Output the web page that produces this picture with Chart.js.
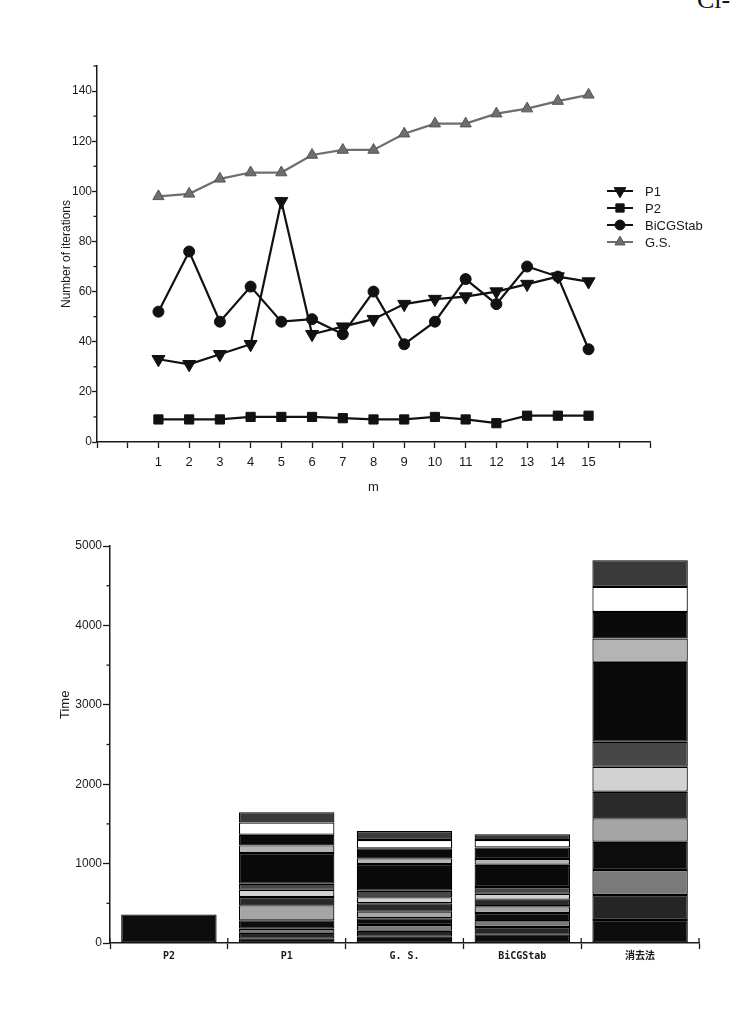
<!DOCTYPE html>
<html>
<head>
<meta charset="utf-8">
<script src="https://cdn.jsdelivr.net/npm/chart.js@4.4.1/dist/chart.umd.min.js"></script>
<style>
  html, body { margin: 0; padding: 0; background: #fff; }
  body { width: 736px; height: 1010px; position: relative; overflow: hidden; }
  #iterChart { position: absolute; left: 0; top: 0; }
  #timeChart { position: absolute; left: 0; top: 510px; }
  #corner { position: absolute; left: 697px; top: -13px; font: 26px 'Liberation Serif', serif; color: #111; line-height: 1; }
</style>
</head>
<body>
<div id="corner">Cl-</div>
<canvas id="iterChart" width="736" height="500"></canvas>
<canvas id="timeChart" width="736" height="500"></canvas>
<script>
// iterations vs m
const mValues  = [1, 2, 3, 4, 5, 6, 7, 8, 9, 10, 11, 12, 13, 14, 15];
const p1Iter   = [33, 31, 35, 39, 96, 43, 46, 49, 55, 57, 58, 60, 63, 66, 64];
const p2Iter   = [9, 9, 9, 10, 10, 10, 9.5, 9, 9, 10, 9, 7.5, 10.5, 10.5, 10.5];
const bicgIter = [52, 76, 48, 62, 48, 49, 43, 60, 39, 48, 65, 55, 70, 66, 37];
const gsIter   = [98, 99, 105, 107.5, 107.5, 114.5, 116.5, 116.5, 123, 127, 127, 131, 133, 136, 138.5];

// time per method, stacked stages listed bottom -> top
const methods  = ['P2', 'P1', 'G. S.', 'BiCGStab', '消去法'];
const p2Time   = [360, 0, 0, 0, 0, 0, 0, 0, 0, 0, 0, 0, 0];
const p1Time   = [55, 75, 50, 105, 189, 105, 92, 75, 386, 97, 134, 155, 130];
const gsTime   = [80, 75, 72, 84, 84, 105, 75, 84, 335, 72, 126, 105, 113];
const bicgTime = [105, 96, 72, 105, 84, 84, 75, 84, 280, 72, 147, 92, 75];
const elimTime = [290, 315, 315, 356, 294, 335, 315, 315, 1006, 294, 335, 315, 336];

const stageShades = ['#0d0d0d', '#262626', '#7a7a7a', '#0d0d0d', '#a5a5a5', '#2a2a2a', '#d2d2d2',
                     '#474747', '#0a0a0a', '#b4b4b4', '#0a0a0a', '#ffffff', '#3a3a3a'];

const FONT = "'Liberation Sans', Arial, sans-serif";
const INK = '#1a1a1a';

const minorTicks = {
  id: 'minorTicks',
  afterDraw(chart, args, o) {
    const s = chart.scales.y, ctx = chart.ctx;
    ctx.save();
    ctx.strokeStyle = INK; ctx.lineWidth = 1.3;
    for (let v = o.step / 2; v <= s.max; v += o.step) {
      const y = s.getPixelForValue(v);
      ctx.beginPath(); ctx.moveTo(s.right - 3.5, y); ctx.lineTo(s.right, y); ctx.stroke();
    }
    ctx.restore();
  }
};

const sideLegend = {
  id: 'sideLegend',
  afterDraw(chart) {
    const ctx = chart.ctx;
    ctx.save();
    chart.data.datasets.forEach((ds, i) => {
      const y = 191 + i * 17, x = 607;
      ctx.strokeStyle = ds.borderColor; ctx.lineWidth = 2;
      ctx.beginPath(); ctx.moveTo(x, y); ctx.lineTo(x + 26, y); ctx.stroke();
      ctx.fillStyle = ds.pointBackgroundColor; ctx.strokeStyle = ds.pointBorderColor; ctx.lineWidth = 1;
      Chart.helpers.drawPoint(ctx, { pointStyle: ds.pointStyle, rotation: ds.pointRotation || 0,
        radius: ds.pointRadius * 0.9, borderWidth: 1 }, x + 13, y);
      ctx.fillStyle = INK; ctx.font = '13px ' + FONT; ctx.textBaseline = 'middle'; ctx.textAlign = 'left';
      ctx.fillText(ds.label, x + 38, y + 1);
    });
    ctx.restore();
  }
};

const pts = arr => arr.map((v, i) => ({ x: mValues[i], y: v }));
const lineSet = (label, arr, style, r, col, extra) => Object.assign({
  label, data: pts(arr), borderColor: col, borderWidth: 2.2, pointStyle: style, pointRadius: r,
  pointBackgroundColor: col, pointBorderColor: col, pointBorderWidth: 1, tension: 0
}, extra || {});

new Chart(document.getElementById('iterChart'), {
  type: 'line',
  data: {
    datasets: [
      lineSet('P1', p1Iter, 'triangle', 7.5, '#111', { pointRotation: 180 }),
      lineSet('P2', p2Iter, 'rect', 6.5, '#111'),
      lineSet('BiCGStab', bicgIter, 'circle', 5.5, '#111'),
      lineSet('G.S.', gsIter, 'triangle', 6.5, '#6e6e6e', { pointBorderColor: '#555' })
    ]
  },
  options: {
    responsive: false, animation: false,
    layout: { padding: { left: 57, right: 86, top: 66, bottom: 3 } },
    plugins: { legend: { display: false }, tooltip: { enabled: false }, minorTicks: { step: 20 } },
    scales: {
      x: {
        type: 'linear', min: -1, max: 17,
        afterFit: s => { s.height = 55; },
        border: { color: INK, width: 1.5 },
        grid: { drawOnChartArea: false, tickLength: 6, color: INK, tickWidth: 1.3 },
        ticks: { stepSize: 1, maxTicksLimit: 40, autoSkip: false, maxRotation: 0, padding: 7, color: INK,
          font: { family: FONT, size: 13 },
          callback: v => (v >= 1 && v <= 15 ? String(v) : '') },
        title: { display: true, text: 'm', color: INK, font: { family: FONT, size: 13 }, padding: { top: 0, bottom: 2 } }
      },
      y: {
        min: 0, max: 150,
        afterFit: s => { s.width = 40; },
        afterBuildTicks: s => { s.ticks = s.ticks.filter(t => t.value % 20 === 0); },
        border: { color: INK, width: 1.5 },
        grid: { drawOnChartArea: false, tickLength: 5, color: INK, tickWidth: 1.3 },
        ticks: { stepSize: 20, padding: 0, color: INK, font: { family: FONT, size: 12 } },
        title: { display: true, text: 'Number of iterations', color: INK, font: { family: FONT, size: 12 }, padding: { top: 2, bottom: 0 } }
      }
    }
  },
  plugins: [minorTicks, sideLegend]
});

// time bars
const timeByMethod = [p2Time, p1Time, gsTime, bicgTime, elimTime];
const barSets = stageShades.map((shade, k) => ({
  data: timeByMethod.map(t => t[k]),
  backgroundColor: shade, borderColor: '#000', borderWidth: 1.2, borderSkipped: false,
  barPercentage: 0.81, categoryPercentage: 1
}));

const timeDecor = {
  id: 'timeDecor',
  afterDraw(chart) {
    const ctx = chart.ctx, x = chart.scales.x, y = chart.scales.y;
    ctx.save();
    ctx.strokeStyle = INK; ctx.lineWidth = 1.3;
    for (let i = 0; i <= methods.length; i++) {
      const px = x.getPixelForValue(i - 0.5);
      ctx.beginPath(); ctx.moveTo(px, x.top - 5); ctx.lineTo(px, x.top); ctx.stroke();
    }
    ctx.translate(65, y.getPixelForValue(3000));
    ctx.rotate(-Math.PI / 2);
    ctx.fillStyle = INK; ctx.font = '13px ' + FONT; ctx.textAlign = 'center'; ctx.textBaseline = 'middle';
    ctx.fillText('Time', 0, 0);
    ctx.restore();
  }
};

new Chart(document.getElementById('timeChart'), {
  type: 'bar',
  data: { labels: methods, datasets: barSets },
  options: {
    responsive: false, animation: false,
    layout: { padding: { left: 60, right: 37, top: 36, bottom: 37 } },
    plugins: { legend: { display: false }, tooltip: { enabled: false }, minorTicks: { step: 1000 } },
    scales: {
      x: {
        stacked: true,
        afterFit: s => { s.height = 30; },
        border: { color: INK, width: 1.5 },
        grid: { drawOnChartArea: false, offset: true, tickLength: 6, color: INK, tickWidth: 1.3 },
        ticks: { padding: 1, color: INK, maxRotation: 0,
          font: { family: "'DejaVu Sans Mono', 'Noto Sans CJK JP', monospace", size: 10, weight: 'bold' } }
      },
      y: {
        stacked: true, min: 0, max: 5000,
        afterFit: s => { s.width = 50; },
        border: { color: INK, width: 1.5 },
        grid: { drawOnChartArea: false, tickLength: 7, color: INK, tickWidth: 1.3 },
        ticks: { stepSize: 1000, padding: 1, color: INK, font: { family: FONT, size: 12 },
          callback: v => String(v) }
      }
    }
  },
  plugins: [minorTicks, timeDecor]
});
</script>
</body>
</html>
